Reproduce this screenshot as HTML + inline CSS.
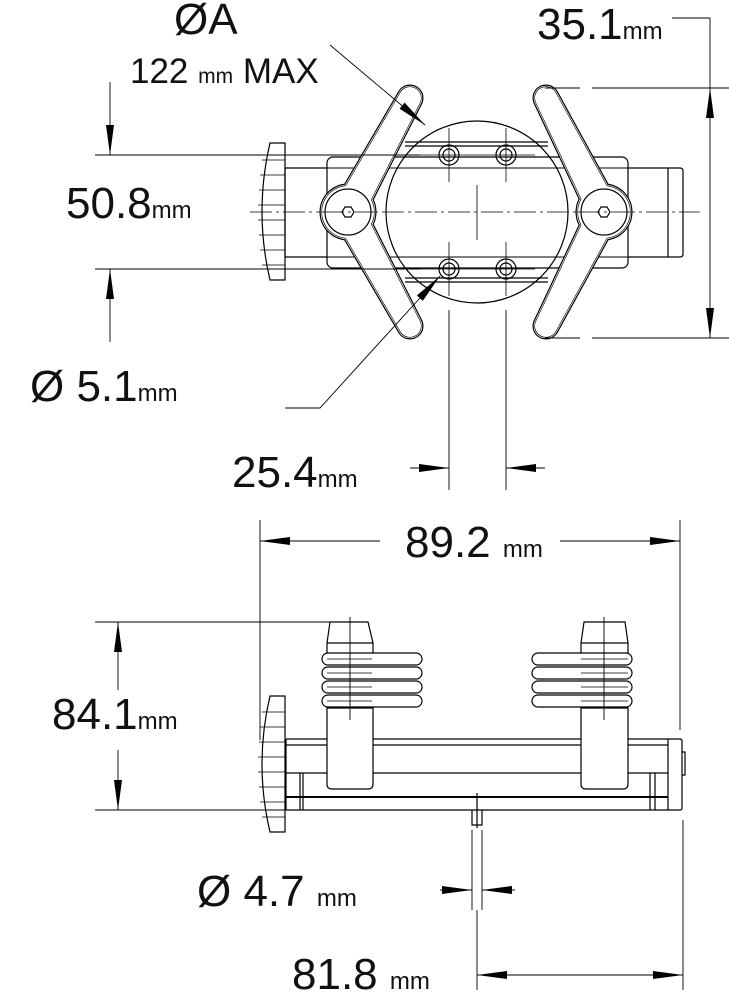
<!DOCTYPE html>
<html><head><meta charset="utf-8"><style>
html,body{margin:0;padding:0;background:#fff}
svg{display:block}
text{font-family:"Liberation Sans",sans-serif;fill:#111}
</style></head><body>
<svg id="s" width="729" height="1000" viewBox="0 0 729 1000" xmlns="http://www.w3.org/2000/svg">
<defs>
<marker id="ar" viewBox="0 0 30 8" refX="30" refY="4" markerWidth="30" markerHeight="8" markerUnits="userSpaceOnUse" orient="auto"><path d="M0,0 L30,4 L0,8 Z" fill="#000"/></marker>
</defs>
<g fill="none" stroke="#000" stroke-width="1.2">
<path d="M270,143 L285,143 L285,280 L270,280 Q254,212 270,143 Z"/>
<g stroke-width="0.8"><path d="M262,160H285M260,175H285M259,190H285M258,205H285M258,220H285M259,235H285M260,250H285M262,265H285"/></g>
<path d="M285,168H327M285,257H327M285,168V257"/>
<path d="M628,168H680Q683,168 683,171V254Q683,257 680,257H628M668,168V257"/>
<rect x="327" y="157" width="301" height="111" rx="6"/>
<path d="M405,142H548M405,146H548M405,282H548M405,278H548"/>
<path d="M327,168H628M327,257H628" stroke-width="0.9"/>
<circle cx="477" cy="212" r="91"/>
<g>
<circle cx="449" cy="155" r="10"/><circle cx="449" cy="155" r="6"/>
<circle cx="506" cy="155" r="10"/><circle cx="506" cy="155" r="6"/>
<circle cx="449" cy="269" r="10"/><circle cx="449" cy="269" r="6"/>
<circle cx="506" cy="269" r="10"/><circle cx="506" cy="269" r="6"/>
</g>
<g stroke-width="0.8">
<path d="M449,128V182M506,128V182M449,242V296M506,242V296M420,155H535M420,269H535M477,185V240"/>
</g>
<path d="M250,212H700" stroke-dasharray="22,4,3,4" stroke-width="0.8"/>
</g>
<g id="levers"></g>
<g fill="none" stroke="#000" stroke-width="1.2">
<circle cx="348" cy="212" r="23" fill="#fff"/>
<circle cx="604" cy="212" r="23" fill="#fff"/>
<path d="M342,212l3,-5h6l3,5l-3,5h-6z"/>
<path d="M598,212l3,-5h6l3,5l-3,5h-6z"/>
<path d="M322,212H374M578,212H630" stroke-dasharray="22,4,3,4" stroke-width="0.8"/>
<path d="M270,696 L285,696 L285,832 L270,832 Q254,764 270,696 Z"/>
<g stroke-width="0.8"><path d="M262,712H285M260,727H285M259,742H285M258,757H285M258,772H285M259,787H285M260,802H285M262,817H285"/></g>
<path d="M286,739H668M286,745H668M286,773H668M286,739V810"/>
<path d="M286,810H668"/>
<path d="M286,797H668" stroke-width="2"/>
<path d="M300,773V810M303,773V810M650,773V810M655,773V810"/>
<path d="M668,739H680Q682,739 682,741V808Q682,810 680,810H668Z"/>
<path d="M682,752h3v23h-3"/>
<path d="M472,810V825H482V810M477,793V828"/>
<path d="M327,708H373V784Q373,789 368,789H332Q327,789 327,784Z" fill="#fff"/>
<path d="M330,622H368L373,643V655H327V643Z"/>
<path d="M327,643H373"/>
<path d="M581,708H628V784Q628,789 623,789H586Q581,789 581,784Z" fill="#fff"/>
<path d="M584,622H625L628,643V655H581V643Z"/>
<path d="M581,643H628"/>
<g fill="#fff">
<rect x="322" y="653" width="100" height="12" rx="6"/>
<rect x="322" y="667" width="100" height="12" rx="6"/>
<rect x="322" y="681" width="100" height="12" rx="6"/>
<rect x="322" y="695" width="100" height="12" rx="6"/>
<rect x="532" y="653" width="100" height="12" rx="6"/>
<rect x="532" y="667" width="100" height="12" rx="6"/>
<rect x="532" y="681" width="100" height="12" rx="6"/>
<rect x="532" y="695" width="100" height="12" rx="6"/>
</g>
<path d="M327,659H372M327,673H372M327,687H372M327,701H372M581,659H628M581,673H628M581,687H628M581,701H628" stroke-width="0.8"/>
<path d="M350,617V720M604,617V720" stroke-width="0.9"/>
<g stroke-width="0.9">
<path d="M330,45L425,125" marker-end="url(#ar)"/>
<path d="M672,18H710M545,88H580M592,88H729M545,338H580M592,338H729"/>
<path d="M710,18V88"/><path d="M710,150V88" marker-end="url(#ar)"/><path d="M710,270V338" marker-end="url(#ar)"/><path d="M710,150V270"/>
<path d="M95,155H420M95,269H420"/>
<path d="M110,82V155" marker-end="url(#ar)"/><path d="M110,342V269" marker-end="url(#ar)"/>
<path d="M285,408H320L440,276" marker-end="url(#ar)"/>
<path d="M449,310V490M506,310V490"/>
<path d="M410,468H449" marker-end="url(#ar)"/><path d="M545,468H506" marker-end="url(#ar)"/>
<path d="M260,520V740M680,520V730"/>
<path d="M380,541H260" marker-end="url(#ar)"/><path d="M560,541H680" marker-end="url(#ar)"/>
<path d="M95,622H330M95,810H375"/>
<path d="M118,690V622" marker-end="url(#ar)"/><path d="M118,750V810" marker-end="url(#ar)"/>
<path d="M472,830V910M482,830V910"/>
<path d="M440,890H472" marker-end="url(#ar)"/><path d="M515,890H482" marker-end="url(#ar)"/>
<path d="M683,820V990M477,910V990"/>
<path d="M580,975H477" marker-end="url(#ar)"/><path d="M580,975H683" marker-end="url(#ar)"/>
</g>
</g>
<text x="174" y="34" font-size="44">ØA</text>
<text x="130" y="83" font-size="35">122 <tspan font-size="21">mm</tspan> MAX</text>
<text x="537" y="39" font-size="44">35.1<tspan font-size="24">mm</tspan></text>
<text x="66" y="218" font-size="44">50.8<tspan font-size="24">mm</tspan></text>
<text x="30" y="401" font-size="44">Ø 5.1<tspan font-size="24">mm</tspan></text>
<text x="232" y="487" font-size="44">25.4<tspan font-size="24">mm</tspan></text>
<text x="405" y="557" font-size="44">89.2 <tspan font-size="24">mm</tspan></text>
<text x="52" y="729" font-size="44">84.1<tspan font-size="24">mm</tspan></text>
<text x="197" y="906" font-size="44">Ø 4.7 <tspan font-size="24">mm</tspan></text>
<text x="292" y="989" font-size="44">81.8 <tspan font-size="24">mm</tspan></text>
</svg>
<script>
(function(){
var NS="http://www.w3.org/2000/svg";
var g=document.getElementById("levers");
function arm(tx,ty,r1,px,py,r2){
  var dx=px-tx,dy=py-ty,L=Math.hypot(dx,dy);dx/=L;dy/=L;var nx=-dy,ny=dx;
  return "M"+(tx+r1*nx)+","+(ty+r1*ny)+"L"+(px+r2*nx)+","+(py+r2*ny)+"L"+(px-r2*nx)+","+(py-r2*ny)+"L"+(tx-r1*nx)+","+(ty-r1*ny)+"Z";
}
function circ(x,y,r){return "M"+(x-r)+","+y+"a"+r+","+r+" 0 1 0 "+(2*r)+",0a"+r+","+r+" 0 1 0 "+(-2*r)+",0Z";}
var shapes=[];
[[410,98,348],[546,98,604]].forEach(function(a){
  var tx=a[0],px=a[2];
  shapes.push(arm(tx,98,11,px,212,15),arm(tx,326,11,px,212,15),circ(tx,98,11),circ(tx,326,11),circ(px,212,26));
});
[["#000",5,"none"],["#fff",2.6,"none"],["#000",1.2,"none"],["none",0,"#fff"]].forEach(function(s){
  shapes.forEach(function(p){
    var e=document.createElementNS(NS,"path");e.setAttribute("d",p);
    e.setAttribute("fill",s[2]);e.setAttribute("stroke",s[0]);e.setAttribute("stroke-width",s[1]);
    e.setAttribute("stroke-linejoin","round");g.appendChild(e);
  });
});
})();
</script>
</body></html>
